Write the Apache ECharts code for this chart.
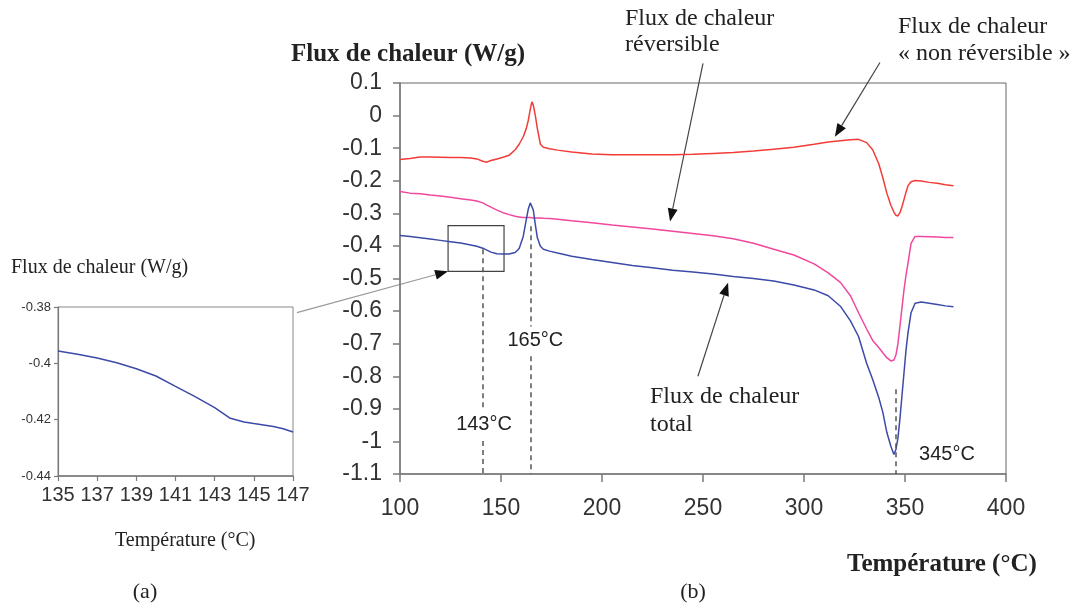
<!DOCTYPE html>
<html>
<head>
<meta charset="utf-8">
<script src="https://cdn.jsdelivr.net/npm/echarts@6/dist/echarts.min.js"></script>
<style>
html, body { margin: 0; padding: 0; background: #fff; }
#container { width: 1077px; height: 610px; }
</style>
</head>
<body>
<div id="container"></div>
<script>
(function() {
"use strict";

    // temperatures (°C) shared by the three curves of (b)
    var temps = [100, 105, 110, 115, 120, 125, 130, 135,
        138, 141, 143, 145, 148, 151, 154, 157, 159, 161,
        162.5, 163.5, 164.5, 165.3, 166, 167, 168, 169.5, 171, 174,
        178, 185, 195, 205, 215, 225, 235, 245, 255, 265,
        275, 285, 295, 305, 312, 318, 323, 327, 331, 334,
        337, 339, 341, 343, 344.5, 345.5, 346.5, 347.5, 348.5, 349.5,
        350.5, 351.5, 353, 355, 358, 362, 366, 370, 374];

    // flux de chaleur "non reversible" (W/g)
    var nonReversible = [-0.135, -0.132, -0.127, -0.127, -0.128, -0.129, -0.129, -0.130,
        -0.133, -0.140, -0.143, -0.138, -0.133, -0.128, -0.122, -0.105, -0.088, -0.065,
        -0.040, -0.015, 0.020, 0.042, 0.032, 0.000, -0.040, -0.088, -0.097, -0.102,
        -0.106, -0.112, -0.118, -0.120, -0.120, -0.120, -0.120, -0.119, -0.116, -0.113,
        -0.109, -0.103, -0.097, -0.088, -0.081, -0.077, -0.074, -0.073, -0.083, -0.105,
        -0.148, -0.190, -0.238, -0.275, -0.296, -0.306, -0.308, -0.298, -0.280, -0.258,
        -0.235, -0.215, -0.203, -0.199, -0.201, -0.205, -0.208, -0.212, -0.215];

    // flux de chaleur reversible (W/g)
    var reversible = [-0.233, -0.238, -0.240, -0.244, -0.247, -0.251, -0.255, -0.259,
        -0.262, -0.268, -0.275, -0.281, -0.290, -0.298, -0.304, -0.309, -0.311, -0.313,
        -0.313, -0.313, -0.313, -0.313, -0.314, -0.314, -0.314, -0.314, -0.315, -0.316,
        -0.318, -0.323, -0.329, -0.336, -0.342, -0.348, -0.355, -0.362, -0.369, -0.378,
        -0.392, -0.410, -0.428, -0.455, -0.483, -0.512, -0.553, -0.605, -0.655, -0.690,
        -0.712, -0.728, -0.743, -0.753, -0.750, -0.735, -0.700, -0.646, -0.590, -0.535,
        -0.490, -0.452, -0.392, -0.371, -0.371, -0.372, -0.373, -0.374, -0.374];

    // flux de chaleur total (W/g)
    var total = [-0.368, -0.371, -0.375, -0.379, -0.383, -0.387, -0.391, -0.397,
        -0.401, -0.407, -0.413, -0.419, -0.424, -0.425, -0.425, -0.420, -0.408, -0.371,
        -0.320, -0.287, -0.268, -0.262, -0.290, -0.335, -0.375, -0.401, -0.410, -0.416,
        -0.422, -0.432, -0.442, -0.451, -0.460, -0.467, -0.475, -0.480, -0.486, -0.494,
        -0.500, -0.508, -0.520, -0.535, -0.553, -0.585, -0.630, -0.678, -0.760, -0.810,
        -0.865, -0.910, -0.972, -1.015, -1.040, -1.025, -0.990, -0.930, -0.860, -0.790,
        -0.720, -0.666, -0.605, -0.576, -0.572, -0.576, -0.580, -0.584, -0.587];

    // zoom (a) on the total curve
    var zoomTemps = [135, 136, 137, 138, 139, 140, 141, 142, 143, 143.8, 144.5, 145, 146, 146.5, 147];
    var zoomTotal = [-0.3956, -0.3968, -0.3981, -0.3998, -0.4019, -0.4045, -0.4082, -0.4118,
        -0.4157, -0.4195, -0.4208, -0.4214, -0.4224, -0.4232, -0.4244];

    // dashed markers: x position, segments [from, to] in W/g, label and its anchor
    var markerTemps = [141, 164.5, 345.5];
    var markerSegments = [[[-0.41, -0.895], [-0.999, -1.1]], [[-0.34, -0.647], [-0.739, -1.1]], [[-0.84, -1.1]]];
    var markerLabels = ['143°C', '165°C', '345°C'];
    var markerLabelPos = [[141.6, -0.947], [167.0, -0.691], [370.8, -1.039]];

    var red = '#f23c38', pink = '#f0489c', blue = '#3c4aa8';
    var axisColor = '#7a7a7a', textColor = '#333';

    function pairs(xs, ys) {
        return xs.map(function(x, i) { return [x, ys[i]]; });
    }

    var markLines = [];
    markerTemps.forEach(function(t, i) {
        markerSegments[i].forEach(function(s) {
            markLines.push([{ coord: [t, s[0]] }, { coord: [t, s[1]] }]);
        });
    });

    var dom = document.getElementById('container');
    var myChart = echarts.init(dom, null, { renderer: 'canvas' });

    var labelFont = 'Liberation Sans';

    var option = {
        animation: false,
        backgroundColor: '#fff',
        grid: [
            { left: 400, top: 83, width: 606, height: 391, show: true, borderColor: '#666', borderWidth: 1, backgroundColor: 'transparent' },
            { left: 58, top: 307, width: 235, height: 169, show: true, borderColor: '#888', borderWidth: 1, backgroundColor: 'transparent' }
        ],
        xAxis: [{
            type: 'value', gridIndex: 0, min: 100, max: 400, interval: 50,
            splitLine: { show: false },
            axisLine: { onZero: false, lineStyle: { color: axisColor, width: 1.5 } },
            axisTick: { length: 8, lineStyle: { color: axisColor, width: 1.5 } },
            axisLabel: { fontSize: 23, fontFamily: labelFont, color: textColor, margin: 23 }
        }, {
            type: 'value', gridIndex: 1, min: 135, max: 147, interval: 2,
            splitLine: { show: false },
            axisLine: { onZero: false, lineStyle: { color: axisColor, width: 1.5 } },
            axisTick: { length: 5, lineStyle: { color: axisColor, width: 1.2 } },
            axisLabel: { fontSize: 20, fontFamily: labelFont, color: textColor, margin: 9 }
        }],
        yAxis: [{
            type: 'value', gridIndex: 0, min: -1.1, max: 0.1, interval: 0.1,
            splitLine: { show: false },
            axisLine: { show: true, onZero: false, lineStyle: { color: axisColor, width: 1.5 } },
            axisTick: { show: true, length: 7, lineStyle: { color: axisColor, width: 1.5 } },
            axisLabel: { fontSize: 23, fontFamily: labelFont, color: textColor, margin: 18 }
        }, {
            type: 'value', gridIndex: 1, min: -0.44, max: -0.38, interval: 0.02,
            splitLine: { show: false },
            axisLine: { show: true, onZero: false, lineStyle: { color: axisColor, width: 1.2 } },
            axisTick: { show: true, length: 4, lineStyle: { color: axisColor, width: 1.2 } },
            axisLabel: { fontSize: 13, fontFamily: labelFont, color: textColor, margin: 7 }
        }],
        series: [{
            name: 'non reversible', type: 'line', xAxisIndex: 0, yAxisIndex: 0,
            data: pairs(temps, nonReversible), symbol: 'none',
            lineStyle: { color: red, width: 1.5 }
        }, {
            name: 'reversible', type: 'line', xAxisIndex: 0, yAxisIndex: 0,
            data: pairs(temps, reversible), symbol: 'none',
            lineStyle: { color: pink, width: 1.5 }
        }, {
            name: 'total', type: 'line', xAxisIndex: 0, yAxisIndex: 0,
            data: pairs(temps, total), symbol: 'none',
            lineStyle: { color: blue, width: 1.5 },
            markLine: {
                silent: true, symbol: 'none', label: { show: false },
                lineStyle: { color: '#555', type: [5, 4], width: 1.5 },
                data: markLines
            },
            markArea: {
                silent: true, label: { show: false },
                itemStyle: { color: 'rgba(0,0,0,0)', borderColor: '#444', borderWidth: 1.2 },
                data: [[{ coord: [123.8, -0.338] }, { coord: [151.5, -0.478] }]]
            }
        }, {
            name: 'zoom', type: 'line', xAxisIndex: 1, yAxisIndex: 1,
            data: pairs(zoomTemps, zoomTotal), symbol: 'none',
            lineStyle: { color: blue, width: 1.5 }
        }]
    };

    myChart.setOption(option, true);

    // annotations: arrows anchored on the data, texts around the plots
    function px(grid, pt) {
        return myChart.convertToPixel({ gridIndex: grid }, pt);
    }

    function arrow(from, to, lineColor) {
        var dx = to[0] - from[0], dy = to[1] - from[1];
        var len = Math.sqrt(dx * dx + dy * dy);
        var ux = dx / len, uy = dy / len, hl = 13, hw = 5;
        var bx = to[0] - ux * hl, by = to[1] - uy * hl;
        return [{
            type: 'line', silent: true,
            shape: { x1: from[0], y1: from[1], x2: bx, y2: by },
            style: { stroke: lineColor, lineWidth: 1.2 }
        }, {
            type: 'polygon', silent: true,
            shape: { points: [to, [bx - uy * hw, by + ux * hw], [bx + uy * hw, by - ux * hw]] },
            style: { fill: '#111' }
        }];
    }

    function text(str, x, y, font, align, vAlign, lineHeight) {
        return {
            type: 'text', silent: true, x: x, y: y,
            style: {
                text: str, font: font, fill: '#222',
                align: align || 'left', verticalAlign: vAlign || 'top',
                lineHeight: lineHeight
            }
        };
    }

    var graphics = [];
    graphics = graphics.concat(arrow(px(0, [250, 0.160]), px(0, [233.7, -0.325]), '#444'));
    graphics = graphics.concat(arrow(px(0, [337.6, 0.163]), px(0, [315.3, -0.065]), '#444'));
    graphics = graphics.concat(arrow(px(0, [247.5, -0.80]), px(0, [262.4, -0.513]), '#444'));
    graphics = graphics.concat(arrow(px(1, [147.2, -0.382]), px(0, [123.8, -0.478]), '#999'));

    markerLabels.forEach(function(lbl, i) {
        var p = px(0, markerLabelPos[i]);
        graphics.push(text(lbl, p[0], p[1], '20px "Liberation Sans"', 'center', 'middle'));
    });

    var serif = '"Liberation Serif"';
    graphics.push(text('Flux de chaleur (W/g)', 291, 42, 'bold 25px ' + serif, 'left', 'top', 25));
    graphics.push(text('Température (°C)', 847, 552, 'bold 25px ' + serif, 'left', 'top', 25));
    graphics.push(text('Flux de chaleur\nréversible', 625, 6, '24px ' + serif, 'left', 'top', 26));
    graphics.push(text('Flux de chaleur\n« non réversible »', 898, 13, '24px ' + serif, 'left', 'top', 27));
    graphics.push(text('Flux de chaleur\ntotal', 650, 383, '24px ' + serif, 'left', 'top', 28));
    graphics.push(text('Flux de chaleur (W/g)', 11, 258, '20px ' + serif, 'left', 'top', 20));
    graphics.push(text('Température (°C)', 115, 531, '20px ' + serif, 'left', 'top', 20));
    graphics.push(text('(a)', 145, 581, '22px ' + serif, 'center', 'top', 22));
    graphics.push(text('(b)', 693, 581, '22px ' + serif, 'center', 'top', 22));

    myChart.setOption({ graphic: graphics });

})();
</script>
</body>
</html>
